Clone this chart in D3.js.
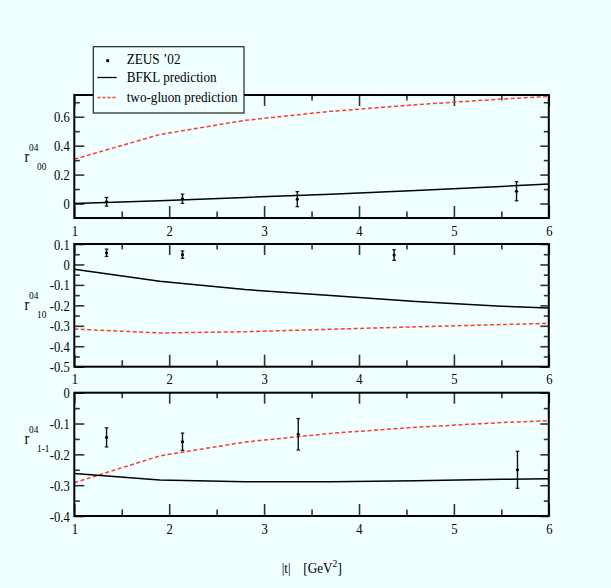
<!DOCTYPE html>
<html><head><meta charset="utf-8">
<script src="https://cdn.jsdelivr.net/npm/d3@7"></script>
<style>body{margin:0;background:#f0ffff} text{font-family:'Liberation Serif','Times New Roman',Times,serif}</style>
</head><body>
<svg id="c" width="611" height="588"></svg>
<script>
// ---- data ----
const tGrid = [1, 1.9, 2.8, 3.7, 4.6, 5.5, 6];
const bfkl00 = [0.0, 0.02, 0.042, 0.064, 0.09, 0.118, 0.135];
const gluon00 = [0.306, 0.477, 0.575, 0.637, 0.683, 0.722, 0.74];
const bfkl10 = [-0.024, -0.082, -0.123, -0.152, -0.181, -0.204, -0.213];
const gluon10 = [-0.316, -0.335, -0.329, -0.317, -0.305, -0.294, -0.288];
const bfkl1m1 = [-0.262, -0.283, -0.289, -0.289, -0.286, -0.281, -0.279];
const gluon1m1 = [-0.292, -0.205, -0.16, -0.132, -0.112, -0.097, -0.091];

const zeusT00 = [1.34, 2.14, 3.35, 5.66];
const zeus00 = [0.012, 0.033, 0.03, 0.085];
const zeusErr00 = [0.03, 0.032, 0.052, 0.066];
const zeusT10 = [1.34, 2.14, 4.37];
const zeus10 = [0.057, 0.048, 0.046];
const zeusErr10 = [0.018, 0.018, 0.026];
const zeusT1m1 = [1.34, 2.14, 3.36, 5.67];
const zeus1m1 = [-0.145, -0.159, -0.135, -0.25];
const zeusErr1m1 = [0.031, 0.028, 0.051, 0.06];

const xTicks = [1, 2, 3, 4, 5, 6];
const xMinor = [1.5, 2.5, 3.5, 4.5, 5.5];
const yTicks00 = [0, 0.2, 0.4, 0.6];
const yLabels00 = ["0", "0.2", "0.4", "0.6"];
const yMinor00 = [0.1, 0.3, 0.5, 0.7];
const yTicks10 = [0.1, 0, -0.1, -0.2, -0.3, -0.4, -0.5];
const yLabels10 = ["0.1", "0", "-0.1", "-0.2", "-0.3", "-0.4", "-0.5"];
const yMinor10 = [0.05, -0.05, -0.15, -0.25, -0.35, -0.45];
const yTicks1m1 = [0, -0.1, -0.2, -0.3, -0.4];
const yLabels1m1 = ["0", "-0.1", "-0.2", "-0.3", "-0.4"];
const yMinor1m1 = [-0.05, -0.15, -0.25, -0.35];
const legendLabels = ["ZEUS \u201902", "BFKL prediction", "two-gluon prediction"];

// ---- drawing ----
const FONT = "'Liberation Serif','Times New Roman',Times,serif";
const RED = "#ff3a2e";
const svg = d3.select("#c");
svg.append("rect").attr("width", 611).attr("height", 588).attr("fill", "#f0ffff");

const x = d3.scaleLinear().domain([1, 6]).range([74.3, 548.8]);

function ctext(g, px, py, str, size, sx, anchor) {
  return g.append("text")
    .attr("transform", `translate(${px},${py}) scale(${sx},1)`)
    .attr("font-family", FONT).attr("font-size", size)
    .attr("text-anchor", anchor || "start").attr("fill", "#000")
    .text(str);
}

const panels = [
  {top: 95, bottom: 218, dom: [-0.1, 0.75], major: yTicks00, labels: yLabels00, minor: yMinor00,
   bfkl: bfkl00, gluon: gluon00, pt: zeusT00, pv: zeus00, pe: zeusErr00, sub: "00", rBase: 162},
  {top: 244, bottom: 366.7, dom: [-0.5, 0.1], major: yTicks10, labels: yLabels10, minor: yMinor10,
   bfkl: bfkl10, gluon: gluon10, pt: zeusT10, pv: zeus10, pe: zeusErr10, sub: "10", rBase: 310},
  {top: 392.7, bottom: 516, dom: [-0.4, 0], major: yTicks1m1, labels: yLabels1m1, minor: yMinor1m1,
   bfkl: bfkl1m1, gluon: gluon1m1, pt: zeusT1m1, pv: zeus1m1, pe: zeusErr1m1, sub: "1-1", rBase: 444}
];

function styleAxis(g) {
  g.select(".domain").remove();
  g.attr("color", "#333").attr("font-family", FONT);
  g.selectAll(".tick line").attr("stroke-width", 1.6);
  return g;
}

panels.forEach(p => {
  const y = d3.scaleLinear().domain(p.dom).range([p.bottom, p.top]);
  const g = svg.append("g");

  // bottom axis (major, labelled)
  const gb = g.append("g").attr("transform", `translate(0,${p.bottom})`)
    .call(d3.axisBottom(x).tickValues(xTicks).tickSize(-12).tickSizeOuter(0).tickFormat(d3.format("d")));
  styleAxis(gb);
  gb.selectAll(".tick text").attr("y", null).attr("dy", null)
    .attr("transform", "translate(0,17.5) scale(0.9,1)")
    .attr("font-family", FONT).attr("font-size", 14).attr("fill", "#000");
  styleAxis(g.append("g").attr("transform", `translate(0,${p.bottom})`)
    .call(d3.axisBottom(x).tickValues(xMinor).tickSize(-6.5).tickSizeOuter(0).tickFormat("")));
  // top axis
  styleAxis(g.append("g").attr("transform", `translate(0,${p.top})`)
    .call(d3.axisTop(x).tickValues(xTicks).tickSize(-11).tickSizeOuter(0).tickFormat("")));
  styleAxis(g.append("g").attr("transform", `translate(0,${p.top})`)
    .call(d3.axisTop(x).tickValues(xMinor).tickSize(-5.5).tickSizeOuter(0).tickFormat("")));
  // left axis
  const gl = g.append("g").attr("transform", `translate(${x(1)},0)`)
    .call(d3.axisLeft(y).tickValues(p.major).tickSize(-10).tickSizeOuter(0)
      .tickFormat((d, i) => p.labels[i]));
  styleAxis(gl);
  gl.selectAll(".tick text").attr("x", null).attr("dy", null)
    .attr("transform", "translate(-4.6,5) scale(0.9,1)")
    .attr("text-anchor", "end")
    .attr("font-family", FONT).attr("font-size", 14).attr("fill", "#000");
  styleAxis(g.append("g").attr("transform", `translate(${x(1)},0)`)
    .call(d3.axisLeft(y).tickValues(p.minor).tickSize(-5.5).tickSizeOuter(0).tickFormat("")));
  // right axis
  styleAxis(g.append("g").attr("transform", `translate(${x(6)},0)`)
    .call(d3.axisRight(y).tickValues(p.major).tickSize(-8.5).tickSizeOuter(0).tickFormat("")));
  styleAxis(g.append("g").attr("transform", `translate(${x(6)},0)`)
    .call(d3.axisRight(y).tickValues(p.minor).tickSize(-5).tickSizeOuter(0).tickFormat("")));

  // curves
  const line = d3.line().x(d => x(d[0])).y(d => y(d[1]));
  g.append("path").datum(tGrid.map((t, i) => [t, p.gluon[i]]))
    .attr("d", line).attr("fill", "none").attr("stroke", RED)
    .attr("stroke-width", 1.5).attr("stroke-dasharray", "4,2.5");
  g.append("path").datum(tGrid.map((t, i) => [t, p.bfkl[i]]))
    .attr("d", line).attr("fill", "none").attr("stroke", "#000").attr("stroke-width", 1.5);

  // data points
  p.pt.forEach((t, i) => {
    const cx = x(t), v = p.pv[i], e = p.pe[i];
    g.append("line").attr("x1", cx).attr("x2", cx).attr("y1", y(v - e)).attr("y2", y(v + e))
      .attr("stroke", "#111").attr("stroke-width", 1.4);
    [v - e, v + e].forEach(w => g.append("line").attr("x1", cx - 1.8).attr("x2", cx + 1.8)
      .attr("y1", y(w)).attr("y2", y(w)).attr("stroke", "#111").attr("stroke-width", 1.2));
    g.append("circle").attr("cx", cx).attr("cy", y(v)).attr("r", 1.6).attr("fill", "#000");
  });

  // frame
  g.append("rect").attr("x", x(1)).attr("y", p.top)
    .attr("width", x(6) - x(1)).attr("height", p.bottom - p.top)
    .attr("fill", "none").attr("stroke", "#000").attr("stroke-width", 2);

  // y title r^{04}_{sub}
  ctext(g, 24.5, p.rBase, "r", 16, 0.9);
  ctext(g, 29, p.rBase - 11, "04", 11, 0.85);
  ctext(g, 37, p.rBase + 8, p.sub, 11, 0.85);
});

// legend
const lg = svg.append("g");
lg.append("rect").attr("x", 93.3).attr("y", 46.7).attr("width", 150.7).attr("height", 66.3)
  .attr("fill", "#f0ffff").attr("stroke", "#222").attr("stroke-width", 1.2);
lg.append("circle").attr("cx", 107.7).attr("cy", 60.7).attr("r", 1.6).attr("fill", "#000");
lg.append("line").attr("x1", 97.5).attr("x2", 116.7).attr("y1", 77.5).attr("y2", 77.5)
  .attr("stroke", "#000").attr("stroke-width", 1.3);
lg.append("line").attr("x1", 97.5).attr("x2", 116.7).attr("y1", 97.5).attr("y2", 97.5)
  .attr("stroke", RED).attr("stroke-width", 1.3).attr("stroke-dasharray", "3,2");
[64.3, 81.8, 102.3].forEach((by, i) => ctext(lg, 126.7, by, legendLabels[i], 15, 0.88));

// x title
ctext(svg, 281.7, 573, "|t|", 15, 0.88);
const xt = ctext(svg, 303.3, 573, "", 15, 0.88);
xt.append("tspan").text("[GeV");
xt.append("tspan").attr("font-size", 11).attr("dy", -6).text("2");
xt.append("tspan").attr("dy", 6).text("]");
</script>
</body></html>
